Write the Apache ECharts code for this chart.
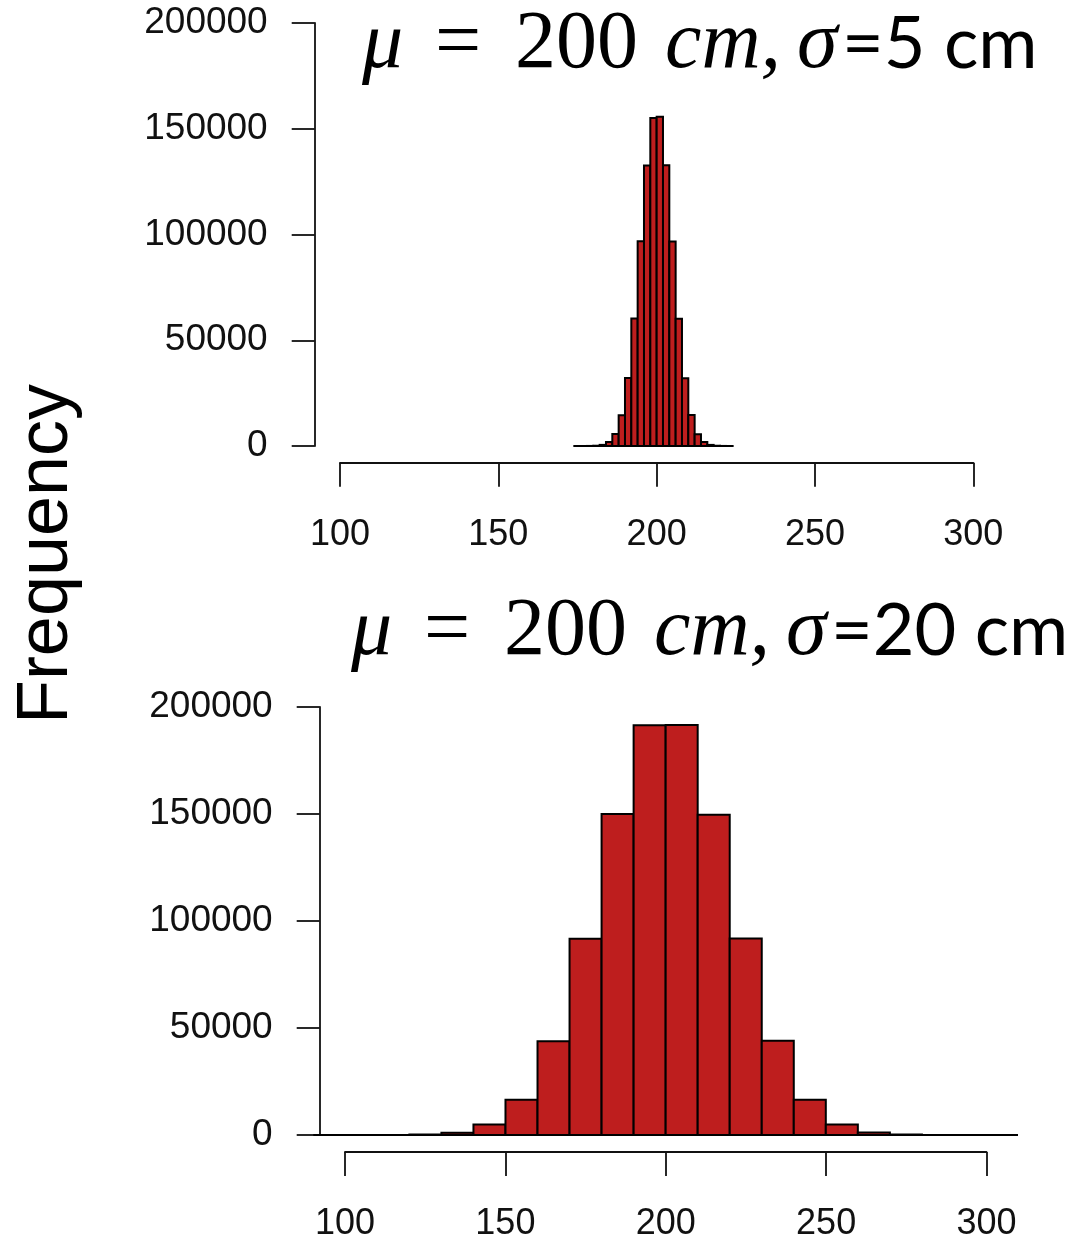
<!DOCTYPE html>
<html>
<head>
<meta charset="utf-8">
<script src="https://cdn.jsdelivr.net/npm/echarts@6/dist/echarts.min.js"></script>
<style>
  html, body { margin: 0; padding: 0; background: #ffffff; }
  #chart { width: 1071px; height: 1241px; }
</style>
</head>
<body>
<div id="chart"></div>
<script>
// Narrow distribution: bins of 2 cm (left edges) and counts
const narrowBinWidth = 2;
const narrowEdges = [174, 176, 178, 180, 182, 184, 186, 188, 190, 192, 194, 196, 198,
                     200, 202, 204, 206, 208, 210, 212, 214, 216, 218, 220, 222];
const narrowCounts = [1, 5, 30, 130, 530, 1870, 5650, 14500, 32100, 60300, 96800, 132600, 155100,
                      155700, 132700, 96700, 60200, 32000, 14600, 5600, 1860, 520, 125, 27, 5];

// Wide distribution: bins of 10 cm (left edges) and counts
const wideBinWidth = 10;
const wideEdges = [90, 100, 110, 120, 130, 140, 150, 160, 170, 180, 190,
                   200, 210, 220, 230, 240, 250, 260, 270, 280, 290, 300];
const wideCounts = [0, 3, 30, 200, 1100, 4900, 16500, 43800, 91700, 150000, 191500,
                    191600, 149600, 91800, 44000, 16500, 4850, 1120, 200, 28, 3, 0];

// Axis tick values
const xTicks = [100, 150, 200, 250, 300];
const yTicks = [0, 50000, 100000, 150000, 200000];

const titleTop = ['μ', '=', '200', 'cm,', 'σ', '=5 cm'];
const titleBottom = ['μ', '=', '200', 'cm,', 'σ', '=20 cm'];
const yName = 'Frequency';

const BAR_FILL = '#BE1E1E';
const INK = '#111111';
const LABEL_FONT = 'Liberation Sans, Arial, sans-serif';

function binData(edges, counts, width) {
  return edges.map((e, i) => [e, e + width, counts[i]]);
}

function renderBin(params, api) {
  const p0 = api.coord([api.value(0), 0]);
  const p1 = api.coord([api.value(1), api.value(2)]);
  return {
    type: 'rect',
    shape: { x: p0[0], y: p1[1], width: p1[0] - p0[0], height: p0[1] - p1[1] },
    style: { fill: BAR_FILL, stroke: '#000000', lineWidth: 2 }
  };
}

// Equation-style title: italic symbols, upright numbers, then plain-text unit
function titleRich(parts) {
  return '{t0|' + parts[0] + '}{t1|' + parts[1] + '}{t2|' + parts[2] + '}{t3|' +
         parts[3] + '}{t4|' + parts[4] + '}{ca|' + parts[5] + '}';
}

const serif = 'Liberation Serif, serif';
const richStyles = {
  t0: { fontFamily: serif, fontStyle: 'italic', fontWeight: 'normal', fontSize: 82, color: '#000', width: 73 },
  t1: { fontFamily: serif, fontWeight: 'normal', fontSize: 82, color: '#000', width: 80 },
  t2: { fontFamily: serif, fontWeight: 'normal', fontSize: 82, color: '#000', width: 150 },
  t3: { fontFamily: serif, fontStyle: 'italic', fontWeight: 'normal', fontSize: 82, color: '#000', width: 132 },
  t4: { fontFamily: serif, fontStyle: 'italic', fontWeight: 'normal', fontSize: 82, color: '#000', width: 45 },
  ca: { fontFamily: 'Lato, sans-serif', fontWeight: 'normal', fontSize: 72, color: '#000' }
};

const yAxisCommon = {
  type: 'value', min: yTicks[0], max: yTicks[yTicks.length - 1], interval: 50000,
  splitLine: { show: false },
  axisLine: { show: true, lineStyle: { color: INK, width: 1.8 } },
  axisTick: { show: true, length: 23, lineStyle: { color: INK, width: 1.8 } },
  axisLabel: { color: INK, fontSize: 37, fontFamily: LABEL_FONT, margin: 47,
               formatter: v => String(v) }
};

const xAxisVisible = {
  type: 'value', min: xTicks[0], max: xTicks[xTicks.length - 1], interval: 50,
  position: 'bottom',
  splitLine: { show: false },
  axisLine: { show: true, lineStyle: { color: INK, width: 1.8 } },
  axisTick: { show: true, length: 24, lineStyle: { color: INK, width: 1.8 } },
  axisLabel: { color: INK, fontSize: 36, fontFamily: LABEL_FONT, margin: 54 }
};

const xAxisHidden = { type: 'value', min: 92, max: 308, show: false };

const chart = echarts.init(document.getElementById('chart'), null, { renderer: 'canvas' });

chart.setOption({
  backgroundColor: '#ffffff',
  animation: false,
  title: [
    { text: titleRich(titleTop), left: 362, top: 4, padding: 0,
      textStyle: { fontWeight: 'normal', rich: richStyles } },
    { text: titleRich(titleBottom), left: 351, top: 591, padding: 0,
      textStyle: { fontWeight: 'normal', rich: richStyles } }
  ],
  graphic: [{
    type: 'text', x: 47, y: 554, rotation: Math.PI / 2,
    style: { text: yName, font: '72px Liberation Sans, Arial, sans-serif', fill: '#000',
             align: 'center', verticalAlign: 'middle' }
  }],
  grid: [
    { left: 314.7, right: 72.4, top: 23, height: 423 },     // narrow bars
    { left: 340, right: 97.7, top: 461.7, height: 1 },      // narrow x axis
    { left: 319.7, right: 59.4, top: 707, height: 428 },    // wide bars
    { left: 345, right: 84.5, top: 1151.7, height: 1 }      // wide x axis
  ],
  xAxis: [
    Object.assign({ gridIndex: 0 }, xAxisHidden),
    Object.assign({ gridIndex: 1 }, xAxisVisible),
    Object.assign({ gridIndex: 2 }, xAxisHidden),
    Object.assign({ gridIndex: 3 }, xAxisVisible)
  ],
  yAxis: [
    Object.assign({ gridIndex: 0 }, yAxisCommon),
    { gridIndex: 1, type: 'value', show: false },
    Object.assign({ gridIndex: 2 }, yAxisCommon),
    { gridIndex: 3, type: 'value', show: false }
  ],
  series: [
    {
      type: 'custom', xAxisIndex: 0, yAxisIndex: 0,
      data: binData(narrowEdges, narrowCounts, narrowBinWidth),
      encode: { x: [0, 1], y: 2 },
      renderItem: renderBin
    },
    {
      type: 'custom', xAxisIndex: 2, yAxisIndex: 2,
      data: binData(wideEdges, wideCounts, wideBinWidth),
      encode: { x: [0, 1], y: 2 },
      renderItem: renderBin
    }
  ]
});
</script>
</body>
</html>
